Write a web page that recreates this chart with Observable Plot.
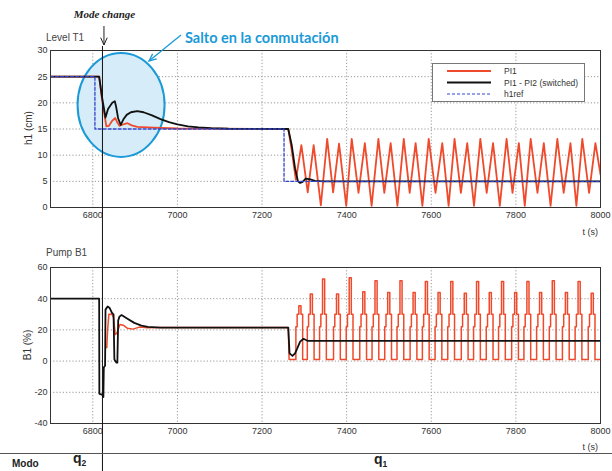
<!DOCTYPE html>
<html><head><meta charset="utf-8">
<script src="https://cdn.jsdelivr.net/npm/d3@7"></script>
<script src="https://cdn.jsdelivr.net/npm/@observablehq/plot@0.6"></script>
<style>
body{margin:0;background:#fff;}
#wrap{position:relative;width:612px;height:471px;overflow:hidden;font-family:"Liberation Sans",Arial,sans-serif;}
#wrap svg{position:absolute;left:0;}
</style></head><body><div id="wrap"></div>
<script>
// ---------- data ----------
const xTicks = [6800, 7000, 7200, 7400, 7600, 7800, 8000];
const levelTicks = [0, 5, 10, 15, 20, 25, 30];
const pumpTicks = [-40, -20, 0, 20, 40, 60];

// Level T1 : h1ref (blue dashed)
const h1ref = [[6700,25],[6805,25],[6805,15],[7252,15],[7252,5],[8000,5]];
// Level T1 : PI1 - PI2 (switched) (black)
const levelSwitched = [[6700,25],[6815,25],[6822,21],[6830,17.2],[6836,18.8],[6846,20],[6852,20.3],[6855,19.3],[6860,17],[6866,15.8],[6872,16.8],[6880,17.7],[6890,18.2],[6905,18.4],[6920,18.2],[6940,17.6],[6960,16.9],[6980,16.3],[7000,15.9],[7025,15.5],[7050,15.3],[7080,15.15],[7120,15.05],[7262,15],[7270,12],[7278,7.5],[7285,5],[7290,4.7],[7296,4.9],[7303,5.5],[7312,5.4],[7325,5.1],[7345,5],[8000,5]];
// Level T1 : PI1 (red)
const levelPI1 = [[6700,25],[6815,25],[6822,20.5],[6832,15.5],[6838,15.6],[6845,16.5],[6853,17.1],[6857,16.4],[6863,15.6],[6872,15.9],[6882,16.1],[6892,15.7],[6905,15.4],[6930,15.3],[6960,15.2],[7000,15.1],[7262,15],[7270,11],[7280,5.3],
 [7293,11.9],[7308,2.9],[7322,11.9],[7339,0.4],[7354,13.1],[7368,2.9],[7382,12.2],[7399,0.3],[7412,13.1],[7428,2.8],[7443,12.3],[7459,0.3],[7475,13.1],[7489,2.8],[7504,12.3],[7520,0.3],[7535,13.1],[7549,2.8],[7563,12.3],[7579,0.3],[7594,13.1],[7610,2.8],[7626,12.3],[7641,0.3],[7655,13.1],[7670,2.8],[7685,12.3],[7701,0.3],[7716,13.1],[7731,2.8],[7746,12.3],[7762,0.3],[7778,13.1],[7792,2.8],[7807,12.3],[7821,0.3],[7835,13.1],[7851,2.8],[7866,12.3],[7882,0.3],[7898,13.1],[7913,2.8],[7929,12.3],[7943,0.3],[7957,13.1],[7973,2.8],[7988,12.3],[8000,6.3]];

// Pump B1 : PI1 - PI2 (switched) (black)
const pumpSwitched = [[6700,40],[6815,40],[6815.5,-21],[6822,-21.5],[6825,-23],[6826,-4],[6829,-3],[6830,33],[6835,35],[6840,34],[6845,31],[6849,30],[6851,1],[6856,-1],[6858,-1],[6860,26],[6863,28.5],[6868,29.5],[6880,27.5],[6898,24.5],[6915,22.8],[6930,22],[6960,21.5],[7262,21.5],[7265,5],[7272,3.3],[7278,5],[7283,8],[7290,12.5],[7298,14.3],[7304,13.5],[7308,13],[8000,13]];
// Pump B1 : PI1 (red), switching phase
const pumpPI1Start = [[6833,8.6],[6835,20],[6838,30],[6845,30],[6849,28],[6853,17],[6857,18],[6864,23.5],[6872,23],[6882,21],[6895,20.5],[6910,21.8],[6930,21.3],[6960,21.6],[7262,21.5],[7264,1]];
// Pump B1 : PI1 (red) pulse centres and peak heights
const pulseCentre = [7289,7316,7345,7378,7408,7440,7469,7499,7528,7559,7588,7618,7648,7680,7709,7739,7768,7799,7828,7858,7888,7919,7949,7980];
const pulsePeak   = [35.5,43,52.7,43,53.5,44.5,51.5,44,51.5,44,51,44,51,43.5,51,44,51,44,51,44,51.5,44,51,43.5];
// pulse profile: [offset (s), level]
const pulseProfile = [[-9,1],[-9,22],[-6,22],[-6,30],[-2,30],[-2,"peak"],[3,"peak"],[3,30],[7,30],[7,1]];
const pumpBase = 1;

// ---------- build pump PI1 series ----------
const pumpPI1 = pumpPI1Start.slice();
pulseCentre.forEach((c, i) => {
  pulseProfile.forEach(([o, v]) => pumpPI1.push([c + o, v === "peak" ? pulsePeak[i] : v]));
});
pumpPI1.push([8000, pumpBase]);

const RED = "#ef4a2b", BLACK = "#111", BLUE = "#3344c8";
const wrap = document.getElementById("wrap");
const FONT = "'Liberation Sans', Arial, sans-serif";

function panel(height, mt, mb, yDomain, yTicks, lines, extra) {
  return Plot.plot({
    width: 612, height, marginTop: mt, marginBottom: mb, marginLeft: 50, marginRight: 12,
    style: {fontFamily: FONT, fontSize: "9px", color: "#333", background: "transparent", overflow: "visible"},
    x: {domain: [6700, 8000], ticks: xTicks, tickFormat: "d", tickSize: 0, tickPadding: 4, label: null},
    y: {domain: yDomain, ticks: yTicks, tickSize: 0, tickPadding: 3, label: null, tickFormat: d => String(d)},
    marks: [
      Plot.ruleX(xTicks.slice(0, -1), {stroke: "#999", strokeDasharray: "1.2,2"}),
      Plot.ruleY(yTicks.slice(1, -1), {stroke: "#999", strokeDasharray: "1.2,2"}),
      ...(extra || []),
      ...lines,
      Plot.frame({stroke: "#333", strokeWidth: 1})
    ]
  });
}

const ellipseMark = (index, {x, y}) => {
  const e = document.createElementNS("http://www.w3.org/2000/svg", "ellipse");
  e.setAttribute("cx", x(6868)); e.setAttribute("cy", y(19.5));
  e.setAttribute("rx", 43.5); e.setAttribute("ry", 52);
  e.setAttribute("fill", "#d6ecf9"); e.setAttribute("stroke", "#1b9ad7"); e.setAttribute("stroke-width", 2);
  return e;
};

const topPlot = panel(240, 50, 33, [0, 30], levelTicks, [
  Plot.line(levelPI1, {x: d => d[0], y: d => d[1], stroke: RED, strokeWidth: 1.8, clip: true}),
  Plot.line(levelSwitched, {x: d => d[0], y: d => d[1], stroke: BLACK, strokeWidth: 1.8, clip: true}),
  Plot.line(h1ref, {x: d => d[0], y: d => d[1], stroke: BLUE, strokeWidth: 1.3, strokeDasharray: "3,2", clip: true})
], [ellipseMark]);
topPlot.style.top = "0px";
wrap.appendChild(topPlot);

const botPlot = panel(231, 27, 48, [-40, 60], pumpTicks, [
  Plot.line(pumpPI1, {x: d => d[0], y: d => d[1], stroke: RED, strokeWidth: 1.5, clip: true}),
  Plot.line(pumpSwitched, {x: d => d[0], y: d => d[1], stroke: BLACK, strokeWidth: 1.8, clip: true})
]);
botPlot.style.top = "240px";
wrap.appendChild(botPlot);

// ---------- overlay annotations ----------
const xs = topPlot.scale("x");
const ov = d3.create("svg").attr("width", 612).attr("height", 471)
  .style("top", "0px").style("left", "0px").style("pointer-events", "none")
  .style("font-family", FONT);

function txt(x, y, s, o = {}) {
  const t = ov.append("text").attr("x", x).attr("y", y).text(s)
    .attr("font-size", o.size || 10).attr("fill", o.fill || "#333")
    .attr("text-anchor", o.anchor || "start");
  if (o.weight) t.attr("font-weight", o.weight);
  if (o.style) t.attr("font-style", o.style);
  if (o.family) t.attr("font-family", o.family);
  if (o.rotate) t.attr("transform", `rotate(${o.rotate},${x},${y})`);
  return t;
}
function arrow(x1, y1, x2, y2, color, w) {
  ov.append("line").attr("x1", x1).attr("y1", y1).attr("x2", x2).attr("y2", y2)
    .attr("stroke", color).attr("stroke-width", w);
  const a = Math.atan2(y2 - y1, x2 - x1), L = 8, s = 0.42;
  const p1 = [x2 - L * Math.cos(a - s), y2 - L * Math.sin(a - s)];
  const p2 = [x2 - L * Math.cos(a + s), y2 - L * Math.sin(a + s)];
  ov.append("polyline").attr("points", `${p1} ${x2},${y2} ${p2}`)
    .attr("fill", "none").attr("stroke", color).attr("stroke-width", w);
}

// panel titles, axis labels
txt(46, 41, "Level T1", {size: 10, fill: "#444"});
txt(46, 256, "Pump B1", {size: 10, fill: "#444"});
txt(32, 128, "h1 (cm)", {size: 10, fill: "#333", anchor: "middle", rotate: -90});
txt(31, 345, "B1 (%)", {size: 10, fill: "#333", anchor: "middle", rotate: -90});
txt(598, 235, "t (s)", {size: 9, anchor: "end"});
txt(598, 450, "t (s)", {size: 9, anchor: "end"});

// legend
ov.append("rect").attr("x", 432.5).attr("y", 63.5).attr("width", 152).attr("height", 38)
  .attr("fill", "#fff").attr("stroke", "#777");
const leg = [["PI1", RED, null], ["PI1 - PI2 (switched)", BLACK, null], ["h1ref", BLUE, "3,2"]];
leg.forEach(([s, c, dash], i) => {
  const y = 71 + i * 11.5;
  const l = ov.append("line").attr("x1", 447).attr("x2", 491).attr("y1", y).attr("y2", y)
    .attr("stroke", c).attr("stroke-width", dash ? 1.2 : 2);
  if (dash) l.attr("stroke-dasharray", dash);
  txt(504, y + 3, s, {size: 8.5, fill: "#333"});
});

// mode change
const xm = xs.apply(6824);
ov.append("line").attr("x1", xm).attr("x2", xm).attr("y1", 46).attr("y2", 471).attr("stroke", "#111").attr("stroke-width", 1);
arrow(xm + 1.5, 26, xm + 1.5, 45, "#222", 1);
txt(xm + 2, 18, "Mode change", {size: 11, weight: "bold", style: "italic", family: "'Liberation Serif', serif", anchor: "middle", fill: "#222"});

// salto annotation
txt(185, 43, "Salto en la conmutación", {size: 14.5, weight: "bold", fill: "#1b9ad7", family: "Lato, 'Open Sans', sans-serif"});
arrow(181, 35, 149, 61, "#1b9ad7", 1.3);

// mode row
ov.append("line").attr("x1", 0).attr("x2", 612).attr("y1", 453.5).attr("y2", 453.5).attr("stroke", "#555").attr("stroke-width", 1);
txt(12, 467, "Modo", {size: 10, weight: "bold", fill: "#222"});
const q2 = txt(73, 463, "q", {size: 14, weight: "bold", fill: "#222"});
q2.append("tspan").attr("font-size", 8.5).attr("dy", 2.5).text("2");
const q1 = txt(374, 464, "q", {size: 14, weight: "bold", fill: "#222"});
q1.append("tspan").attr("font-size", 8.5).attr("dy", 2.5).text("1");

wrap.appendChild(ov.node());
</script></body></html>
